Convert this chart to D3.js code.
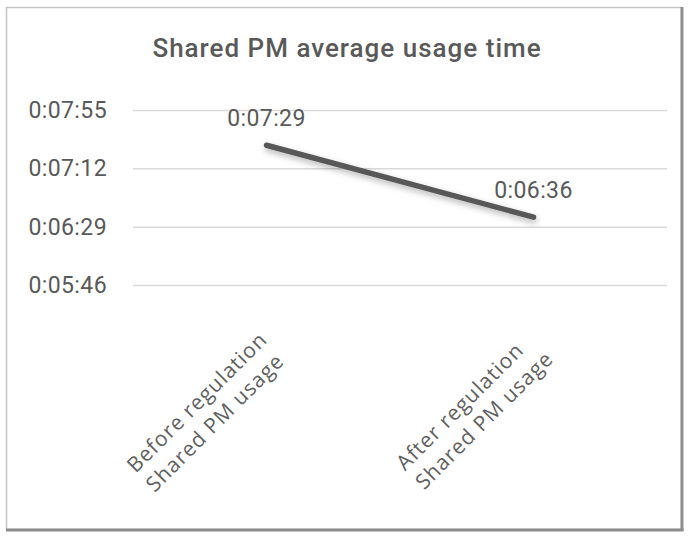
<!DOCTYPE html>
<html>
<head>
<meta charset="utf-8">
<script src="https://cdn.jsdelivr.net/npm/d3@7"></script>
<style>
  body { margin: 0; background: #fff; }
  svg { display: block; }
</style>
</head>
<body>
<svg id="chart"></svg>
<script>
// data
var categoryLines = [["Before regulation", "Shared PM usage"], ["After regulation", "Shared PM usage"]]
var usageSeconds = [449, 396]            // 0:07:29, 0:06:36
var tickSeconds = [346, 389, 432, 475]   // 0:05:46 .. 0:07:55
var titleText = "Shared PM average usage time"

var width = 691, height = 540
var plot = {left: 133, right: 667, top: 110, bottom: 285}
var textColor = "#595959"

function fmtTime(s) {
  var m = Math.floor(s / 60), sec = s % 60
  return "0:" + (m < 10 ? "0" : "") + m + ":" + (sec < 10 ? "0" : "") + sec
}

var svg = d3.select("#chart")
  .attr("width", width)
  .attr("height", height)

// shadow for the line
var defs = svg.append("defs")
defs.append("filter")
  .attr("id", "shadow")
  .attr("x", "-20%").attr("y", "-50%")
  .attr("width", "140%").attr("height", "200%")
  .append("feDropShadow")
  .attr("dx", 1).attr("dy", 3)
  .attr("stdDeviation", 3)
  .attr("flood-color", "#000")
  .attr("flood-opacity", 0.3)

// frame
svg.append("rect")
  .attr("x", 6.5).attr("y", 7.5)
  .attr("width", 675).attr("height", 522)
  .attr("fill", "#fff")
  .attr("stroke", "#c4c4c4")
  .attr("stroke-width", 1.5)
svg.append("line")
  .attr("x1", 682).attr("y1", 7).attr("x2", 682).attr("y2", 531)
  .attr("stroke", "#8f8f8f").attr("stroke-width", 3)
svg.append("line")
  .attr("x1", 6).attr("y1", 530).attr("x2", 683.5).attr("y2", 530)
  .attr("stroke", "#8c8c8c").attr("stroke-width", 3)

// title
svg.append("text")
  .attr("x", 347).attr("y", 57)
  .attr("text-anchor", "middle")
  .attr("font-family", "Roboto, sans-serif")
  .attr("font-weight", 500)
  .attr("font-size", 26)
  .attr("letter-spacing", 1)
  .attr("fill", textColor)
  .text(titleText)

// scales
var names = categoryLines.map(function(c) { return c.join(" ") })
var x = d3.scaleBand()
  .domain(names)
  .range([plot.left, plot.right])
var y = d3.scaleLinear()
  .domain([d3.min(tickSeconds), d3.max(tickSeconds)])
  .range([plot.bottom, plot.top])

// y axis with gridlines
var yAxis = svg.append("g")
  .attr("transform", "translate(" + plot.left + ",0)")
  .call(d3.axisLeft(y)
    .tickValues(tickSeconds)
    .tickFormat(fmtTime)
    .tickSize(-(plot.right - plot.left))
    .tickPadding(26))
yAxis.select(".domain").remove()
yAxis.selectAll(".tick line")
  .attr("stroke", "#d9d9d9")
  .attr("stroke-width", 1.5)
yAxis.selectAll(".tick text")
  .attr("font-family", "Roboto, sans-serif")
  .attr("font-size", 23)
  .attr("letter-spacing", 0.4)
  .attr("fill", textColor)

// x axis: rotated two-line labels, block right edge at the tick
var xAxis = svg.append("g")
  .attr("transform", "translate(0," + plot.bottom + ")")
  .call(d3.axisBottom(x).tickSize(0).tickFormat(""))
xAxis.select(".domain").remove()
xAxis.selectAll(".tick text").each(function(d, i) {
  var t = d3.select(this)
    .attr("y", 0).attr("dy", null)
    .attr("text-anchor", "start")
    .attr("transform", "translate(2,56) rotate(-45)")
    .attr("font-family", "'Open Sans', sans-serif")
    .attr("font-size", 21)
    .attr("letter-spacing", 1)
    .attr("fill", "#606060")
  var spans = t.selectAll("tspan")
    .data(categoryLines[i])
    .join("tspan")
    .attr("y", function(s, j) { return j * 27 })
    .text(function(s) { return s })
  var maxLen = 0
  spans.each(function() { maxLen = Math.max(maxLen, this.getComputedTextLength()) })
  spans.attr("x", -maxLen)
})

// the line
var points = usageSeconds.map(function(v, i) {
  return {x: x(names[i]) + x.bandwidth() / 2, y: y(v), v: v}
})
svg.append("path")
  .datum(points)
  .attr("d", d3.line().x(function(p) { return p.x }).y(function(p) { return p.y }))
  .attr("fill", "none")
  .attr("stroke", "#595959")
  .attr("stroke-width", 5.5)
  .attr("stroke-linecap", "round")
  .attr("filter", "url(#shadow)")

// data labels
svg.selectAll(".dlabel")
  .data(points)
  .join("text")
  .attr("class", "dlabel")
  .attr("x", function(p) { return p.x })
  .attr("y", function(p) { return p.y - 19 })
  .attr("text-anchor", "middle")
  .attr("font-family", "Roboto, sans-serif")
  .attr("font-size", 23)
  .attr("letter-spacing", 0.4)
  .attr("fill", textColor)
  .text(function(p) { return fmtTime(p.v) })
</script>
</body>
</html>
